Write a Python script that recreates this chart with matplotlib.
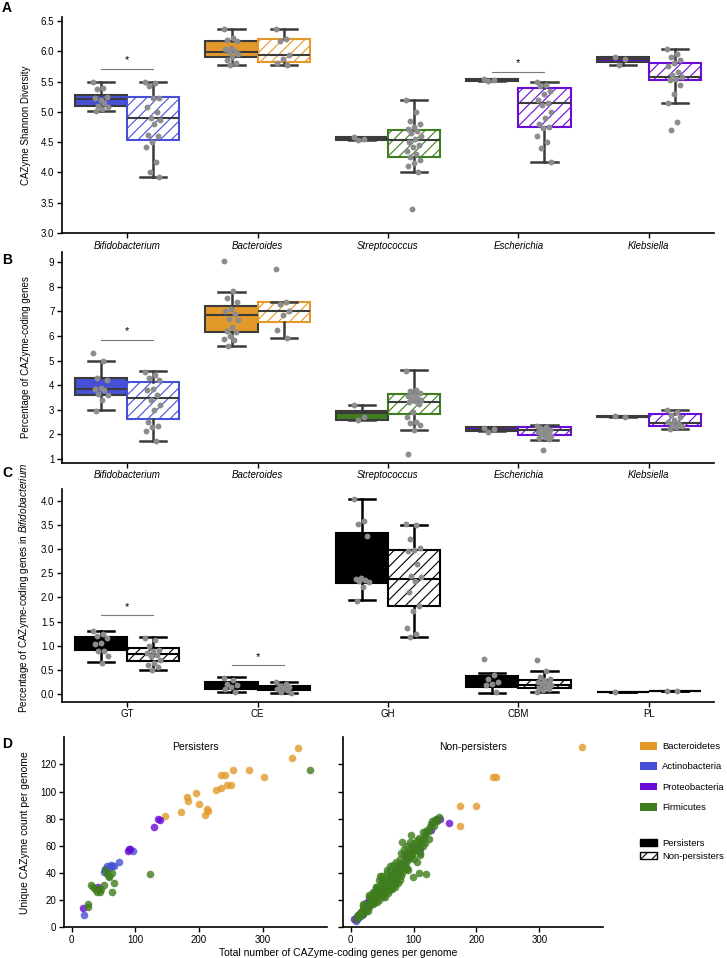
import matplotlib.pyplot as plt
import numpy as np
from matplotlib.patches import Patch

plt.rcParams['font.family'] = ['Liberation Sans', 'DejaVu Sans']
plt.rcParams['mathtext.fontset'] = 'custom'
plt.rcParams['mathtext.it'] = 'Liberation Sans:italic'
plt.rcParams['mathtext.rm'] = 'Liberation Sans'
plt.rcParams['font.size'] = 7
plt.rcParams['hatch.linewidth'] = 0.8

DARK = '#3b3b3b'
ORANGE = '#e3992a'
BLUE = '#4650d6'
PURPLE = '#6a0bd8'
GREEN = '#3f7d1e'

# ---- panels A and B: genera ----
genera = ['Bifidobacterium', 'Bacteroides', 'Streptococcus', 'Escherichia', 'Klebsiella']
genus_colors = [BLUE, ORANGE, GREEN, PURPLE, PURPLE]

# box stats: whislo, q1, median, q3, whishi
shannon_pers_box = [[5.01, 5.09, 5.21, 5.27, 5.50],
                    [5.77, 5.91, 5.98, 6.17, 6.36],
                    [4.53, 4.53, 4.55, 4.58, 4.58],
                    [5.51, 5.51, 5.53, 5.55, 5.55],
                    [5.77, 5.82, 5.87, 5.91, 5.91]]
shannon_nonp_box = [[3.93, 4.53, 4.89, 5.24, 5.50],
                    [5.78, 5.83, 5.93, 6.20, 6.37],
                    [4.01, 4.26, 4.54, 4.70, 5.20],
                    [4.18, 4.75, 5.15, 5.39, 5.49],
                    [5.14, 5.53, 5.58, 5.81, 6.04]]
shannon_pers_pts = [[5.50, 5.40, 5.37, 5.25, 5.20, 5.22, 5.15, 5.10, 5.08, 5.05, 5.02],
                    [6.36, 6.22, 6.18, 6.17, 6.05, 6.03, 6.00, 5.98, 5.95, 5.90, 5.85, 5.80, 5.77],
                    [4.58, 4.55, 4.53],
                    [5.54, 5.52, 5.51],
                    [5.90, 5.88, 5.78]]
shannon_nonp_pts = [[5.50, 5.48, 5.42, 5.23, 5.22, 5.08, 5.00, 4.90, 4.87, 4.80, 4.62, 4.60, 4.50, 4.42, 4.18, 4.01, 3.93],
                    [6.37, 6.20, 6.17, 5.93, 5.88, 5.80, 5.78],
                    [5.20, 4.99, 4.85, 4.80, 4.75, 4.72, 4.68, 4.65, 4.60, 4.55, 4.50, 4.45, 4.42, 4.35,
                     4.30, 4.25, 4.20, 4.15, 4.10, 4.00, 3.39],
                    [5.49, 5.45, 5.42, 5.35, 5.30, 5.20, 5.15, 5.12, 5.00, 4.90, 4.80, 4.75, 4.73, 4.60,
                     4.50, 4.40, 4.18],
                    [6.03, 5.95, 5.90, 5.85, 5.80, 5.75, 5.65, 5.60, 5.58, 5.55, 5.52, 5.45, 5.30, 5.14,
                     4.83, 4.70]]

pct_pers_box = [[2.98, 3.62, 3.85, 4.28, 5.00],
                [5.60, 6.17, 6.85, 7.21, 7.80],
                [2.60, 2.60, 2.86, 2.97, 3.21],
                [2.14, 2.14, 2.20, 2.32, 2.32],
                [2.70, 2.70, 2.72, 2.74, 2.74]]
pct_nonp_box = [[1.75, 2.63, 3.48, 4.13, 4.58],
                [5.91, 6.56, 7.02, 7.38, 7.39],
                [2.18, 2.83, 3.33, 3.65, 4.60],
                [1.78, 1.99, 2.16, 2.32, 2.37],
                [2.21, 2.36, 2.48, 2.83, 3.00]]
pct_pers_pts = [[5.32, 5.00, 4.30, 4.20, 3.90, 3.85, 3.80, 3.65, 3.60, 3.40, 2.97],
                [9.05, 7.82, 7.55, 7.40, 7.10, 7.00, 6.90, 6.70, 6.65, 6.35, 6.20, 6.15, 6.00, 5.90, 5.85, 5.60],
                [3.20, 2.70, 2.60],
                [2.28, 2.22, 2.10],
                [2.75, 2.72]]
pct_nonp_pts = [[4.55, 4.40, 4.30, 4.20, 3.85, 3.80, 3.60, 3.40, 3.20, 3.00, 2.50, 2.35, 2.30, 2.15, 1.72],
                [8.72, 7.38, 7.30, 7.00, 6.85, 6.25, 5.92],
                [4.58, 3.80, 3.75, 3.70, 3.60, 3.55, 3.50, 3.45, 3.40, 3.35, 3.30, 3.25, 2.90, 2.70,
                 2.50, 2.45, 2.40, 2.20, 1.20],
                [2.35, 2.30, 2.25, 2.20, 2.15, 2.10, 2.05, 2.00, 1.95, 1.90, 1.85, 1.80, 1.38],
                [3.00, 2.90, 2.80, 2.70, 2.60, 2.50, 2.45, 2.40, 2.35, 2.30, 2.22]]

# ---- panel C: CAZyme classes in Bifidobacterium ----
classes = ['GT', 'CE', 'GH', 'CBM', 'PL']
class_pers_box = [[0.66, 0.91, 1.03, 1.17, 1.30],
                  [0.05, 0.10, 0.18, 0.25, 0.35],
                  [1.94, 2.29, 2.38, 3.34, 4.04],
                  [0.03, 0.15, 0.25, 0.37, 0.44],
                  [0.04, 0.04, 0.04, 0.04, 0.04]]
class_nonp_box = [[0.50, 0.69, 0.83, 0.95, 1.17],
                  [0.03, 0.08, 0.12, 0.165, 0.24],
                  [1.17, 1.83, 2.39, 2.98, 3.51],
                  [0.05, 0.12, 0.18, 0.28, 0.48],
                  [0.06, 0.06, 0.06, 0.06, 0.07]]
class_pers_pts = [[1.30, 1.25, 1.20, 1.15, 1.05, 1.03, 0.90, 0.88, 0.78, 0.65],
                  [0.33, 0.28, 0.20, 0.18, 0.15, 0.10, 0.05],
                  [4.04, 3.58, 3.52, 3.27, 2.40, 2.38, 2.36, 2.35, 2.32, 2.22, 1.93],
                  [0.72, 0.40, 0.30, 0.25, 0.20, 0.18, 0.05],
                  [0.04]]
class_nonp_pts = [[1.15, 1.12, 1.00, 0.92, 0.90, 0.85, 0.80, 0.78, 0.70, 0.65, 0.60, 0.55, 0.50],
                  [0.24, 0.20, 0.17, 0.15, 0.12, 0.10, 0.08, 0.05, 0.03],
                  [3.52, 3.50, 3.22, 3.03, 2.98, 2.97, 2.70, 2.45, 2.42, 2.35, 2.12, 1.83, 1.71, 1.36, 1.24, 1.17],
                  [0.70, 0.48, 0.35, 0.30, 0.28, 0.25, 0.22, 0.20, 0.18, 0.15, 0.12, 0.10, 0.08, 0.05],
                  [0.07, 0.07]]

# ---- panel D: total vs unique CAZymes per genome ----
phyla = ['Bacteroidetes', 'Actinobacteria', 'Proteobacteria', 'Firmicutes']
phylum_colors = [ORANGE, BLUE, PURPLE, GREEN]

pers_bacteroidetes_x = [355, 346, 254, 279, 302, 241, 235, 250, 244, 235, 227, 195, 181, 182, 200, 213, 210, 214, 171, 147]
pers_bacteroidetes_y = [132, 125, 116, 116, 111, 112, 112, 105, 105, 103, 101, 99, 96, 93, 91, 87, 83, 86, 85, 82]
pers_actino_x = [97, 74, 64, 59, 53, 51, 56, 19, 62, 66]
pers_actino_y = [56, 48, 45, 44, 43, 41, 45, 9, 46, 45]
pers_proteo_x = [136, 129, 138, 90, 89, 92, 18, 41]
pers_proteo_y = [80, 74, 79, 58, 56, 58, 14, 30]
pers_firm_x = [375, 123, 64, 56, 52, 66, 63, 51, 33, 37, 40, 30, 25, 26, 46, 41, 59, 44, 58]
pers_firm_y = [116, 39, 40, 39, 42, 33, 26, 31, 30, 28, 26, 31, 17, 15, 28, 28, 37, 26, 38]

nonp_bacteroidetes_x = [367, 226, 231, 174, 199, 174]
nonp_bacteroidetes_y = [133, 111, 111, 89.5, 89.5, 75]
nonp_actino_x = [10, 12, 15, 18, 20, 14, 22, 25, 28, 8, 30, 17, 24, 35]
nonp_actino_y = [6, 7, 8, 9, 10, 9, 12, 13, 15, 5, 16, 11, 14, 19]
nonp_proteo_x = [6, 8, 30, 45, 55, 62, 70, 80, 95, 105, 110, 120, 130, 138, 142, 156, 40, 25, 88, 128]
nonp_proteo_y = [6, 7, 20, 28, 33, 38, 43, 47, 55, 60, 58, 70, 76, 79, 80, 77, 27, 18, 52, 72]
nonp_firm_x = [8, 10, 12, 14, 15, 16, 18, 19, 20, 22, 23, 24, 25, 26, 27, 28, 29, 30, 31, 32, 33, 34, 35, 36,
               37, 38, 39, 40, 41, 42, 43, 44, 45, 46, 47, 48, 49, 50, 51, 52, 53, 54, 55, 56, 57, 58, 59, 60,
               61, 62, 63, 64, 65, 66, 67, 68, 69, 70, 71, 72, 73, 74, 75, 76, 77, 78, 79, 80, 82, 84, 86, 88,
               90, 92, 94, 96, 98, 100, 102, 104, 106, 108, 110, 112, 114, 116, 118, 120, 122, 124, 126, 128,
               130, 132, 134, 136, 138, 140, 45, 50, 55, 60, 65, 70, 75, 66, 51, 40, 58, 62, 72, 80, 85, 90,
               95, 81, 96, 105, 99, 108, 120, 88, 110, 115, 125, 100, 92, 78, 35, 30, 20, 47,
               20, 25, 30, 35, 40, 45, 50, 55, 60, 65, 70, 75, 80, 85, 90, 95, 100, 105, 110, 115,
               28, 38, 48, 58, 68, 78, 88, 98, 108, 118, 42, 52, 62, 72, 82]
nonp_firm_y = [6, 8, 9, 10, 8, 11, 12, 10, 13, 14, 12, 15, 16, 14, 17, 16, 18, 15, 19, 20, 18, 21, 17, 22,
               20, 23, 21, 24, 22, 25, 23, 26, 24, 27, 25, 29, 26, 28, 30, 27, 31, 29, 32, 30, 33, 31, 34, 32,
               35, 33, 36, 34, 37, 35, 38, 36, 40, 37, 39, 41, 38, 42, 40, 43, 41, 44, 42, 46, 45, 48, 47, 50,
               49, 52, 51, 54, 53, 56, 58, 57, 60, 59, 62, 64, 63, 66, 68, 70, 72, 71, 74, 76,
               78, 75, 79, 80, 78, 81, 35, 38, 22, 25, 28, 30, 33, 28, 22, 30, 42, 45, 48, 55, 58, 60,
               63, 63, 68, 48, 37, 40, 39, 43, 53, 60, 65, 62, 42, 35, 25, 22, 17, 38,
               16, 12, 24, 26, 30, 20, 34, 36, 27, 42, 32, 47, 38, 54, 44, 58, 50, 64, 55, 70,
               12, 18, 33, 40, 46, 50, 55, 60, 66, 62, 19, 24, 30, 34, 40]


def draw_boxes(ax, pers_box, nonp_box, pers_pts, nonp_pts, colors, dark):
    n = len(pers_box)
    groups = [(pers_box, pers_pts, -0.2, True), (nonp_box, nonp_pts, 0.2, False)]
    for boxes, pts, off, filled in groups:
        stats = [dict(whislo=b[0], q1=b[1], med=b[2], q3=b[3], whishi=b[4]) for b in boxes]
        pos = np.arange(n) + off
        art = ax.bxp(stats, positions=pos, widths=0.4, capwidths=0.2, patch_artist=True,
                     showfliers=False, manage_ticks=False,
                     whiskerprops=dict(color=dark, lw=1.8),
                     capprops=dict(color=dark, lw=1.8),
                     medianprops=dict(color=dark, lw=1.5),
                     boxprops=dict(lw=1.5))
        for patch, c in zip(art['boxes'], colors):
            if filled:
                patch.set_facecolor(c)
                patch.set_edgecolor(dark)
            else:
                patch.set_facecolor('white')
                patch.set_edgecolor(c)
                patch.set_hatch('///')
        for p, vals in zip(pos, pts):
            vals = np.asarray(vals)
            jit = ((np.arange(len(vals)) * 0.618034) % 1 - 0.5) * 0.12
            ax.scatter(p + jit, vals, s=18, color='#8c8c8c', lw=0, zorder=5)


def style(ax):
    for s in ['top', 'right']:
        ax.spines[s].set_visible(False)
    for s in ['left', 'bottom']:
        ax.spines[s].set_linewidth(1.2)
    ax.tick_params(length=3.5, width=1, labelsize=7, pad=2)


def sig(ax, x0, x1, y, ystar):
    ax.plot([x0, x1], [y, y], color='#7a7a7a', lw=0.8)
    ax.text((x0 + x1) / 2, ystar, '*', ha='center', va='center', fontsize=8)


fig = plt.figure(figsize=(7.27, 9.58), dpi=100)
W, H = 727, 958


def add_axes(x0, x1, ytop, ybot):
    return fig.add_axes([x0 / W, 1 - ybot / H, (x1 - x0) / W, (ybot - ytop) / H])


# Panel A
axA = add_axes(62, 714, 16.7, 233)
draw_boxes(axA, shannon_pers_box, shannon_nonp_box, shannon_pers_pts, shannon_nonp_pts, genus_colors, DARK)
axA.set_xlim(-0.5, 4.5)
axA.set_ylim(3.0, 6.57)
axA.set_yticks(np.arange(3.0, 6.51, 0.5))
axA.set_xticks(range(5))
axA.set_xticklabels(genera, style='italic', fontsize=7.5)
axA.set_ylabel('CAZyme Shannon Diversity', fontsize=7)
axA.yaxis.set_label_coords(-0.047, 0.5)
sig(axA, -0.2, 0.2, 5.71, 5.86)
sig(axA, 2.8, 3.2, 5.65, 5.80)
style(axA)

# Panel B
axB = add_axes(62, 714, 251.7, 462.7)
draw_boxes(axB, pct_pers_box, pct_nonp_box, pct_pers_pts, pct_nonp_pts, genus_colors, DARK)
axB.set_xlim(-0.5, 4.5)
axB.set_ylim(0.85, 9.43)
axB.set_yticks(range(1, 10))
axB.set_xticks(range(5))
axB.set_xticklabels(genera, style='italic', fontsize=7.5)
axB.set_ylabel('Percentage of CAZyme-coding genes', fontsize=7)
axB.yaxis.set_label_coords(-0.047, 0.5)
sig(axB, -0.2, 0.2, 5.84, 6.22)
style(axB)

# Panel C
axC = add_axes(62, 714, 489.3, 701.7)
draw_boxes(axC, class_pers_box, class_nonp_box, class_pers_pts, class_nonp_pts, ['black'] * 5, 'black')
axC.set_xlim(-0.5, 4.5)
axC.set_ylim(-0.16, 4.24)
axC.set_yticks(np.arange(0, 4.01, 0.5))
axC.set_xticks(range(5))
axC.set_xticklabels(classes, fontsize=7.5)
axC.set_ylabel(r'Percentage of CAZyme-coding genes in $\mathit{Bifidobacterium}$', fontsize=7.2)
axC.yaxis.set_label_coords(-0.047, 0.535)
sig(axC, -0.2, 0.2, 1.64, 1.81)
sig(axC, 0.8, 1.2, 0.59, 0.77)
style(axC)

# Panel D
axD1 = add_axes(64, 327, 737.3, 927.3)
axD2 = add_axes(343, 603, 737.3, 927.3)
pers_sets = [(pers_bacteroidetes_x, pers_bacteroidetes_y), (pers_actino_x, pers_actino_y),
             (pers_proteo_x, pers_proteo_y), (pers_firm_x, pers_firm_y)]
nonp_sets = [(nonp_bacteroidetes_x, nonp_bacteroidetes_y), (nonp_actino_x, nonp_actino_y),
             (nonp_proteo_x, nonp_proteo_y), (nonp_firm_x, nonp_firm_y)]
for ax, sets, title in [(axD1, pers_sets, 'Persisters'), (axD2, nonp_sets, 'Non-persisters')]:
    for (xs, ys), c in zip(sets, phylum_colors):
        ax.scatter(xs, ys, s=30, color=c, alpha=0.8, lw=0)
    ax.set_xlim(-12, 401)
    ax.set_ylim(0, 140)
    ax.set_xticks([0, 100, 200, 300])
    ax.set_yticks(range(0, 121, 20))
    ax.text(0.5, 0.975, title, transform=ax.transAxes, ha='center', va='top', fontsize=7.5)
    style(ax)
axD2.set_yticklabels([])
axD1.set_ylabel('Unique CAZyme count per genome', fontsize=7.5)
axD1.yaxis.set_label_coords(-0.13, 0.5)
fig.text(338 / W, 1 - 952.5 / H, 'Total number of CAZyme-coding genes per genome',
         ha='center', va='center', fontsize=7.5)

# Legends
phylum_handles = [Patch(facecolor=c, edgecolor='none') for c in phylum_colors]
fig.legend(phylum_handles, phyla, loc='upper left', bbox_to_anchor=(640 / W, 1 - 742 / H),
           frameon=False, fontsize=6.8, handlelength=1.8, handleheight=0.85,
           handletextpad=0.55, labelspacing=1.2, borderpad=0, borderaxespad=0)
status_handles = [Patch(facecolor='black', edgecolor='black'),
                  Patch(facecolor='white', edgecolor='black', hatch='///')]
fig.legend(status_handles, ['Persisters', 'Non-persisters'], loc='upper left',
           bbox_to_anchor=(640 / W, 1 - 839 / H), frameon=False, fontsize=6.8,
           handlelength=1.8, handleheight=0.75, handletextpad=0.55, labelspacing=0.45,
           borderpad=0, borderaxespad=0)

# Panel letters
for letter, y in [('A', 8), ('B', 260), ('C', 473), ('D', 744)]:
    fig.text(7 / W, 1 - y / H, letter, fontsize=10, fontweight='bold', ha='center', va='center')

fig.savefig('out.png', dpi=100)
